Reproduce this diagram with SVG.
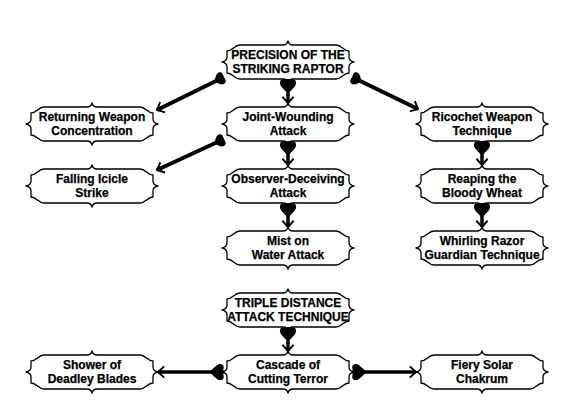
<svg xmlns="http://www.w3.org/2000/svg" xmlns:xlink="http://www.w3.org/1999/xlink" width="576" height="412" viewBox="0 0 576 412">
<style>
.box{fill:#fff;stroke:#000;stroke-width:1.3;stroke-linejoin:round}
.lbl{font-family:"Liberation Sans",Arial,sans-serif;font-weight:bold;font-size:12px;fill:#000;stroke:#000;stroke-width:0.25;text-anchor:middle}
.conn{fill:none;stroke:#000;stroke-width:3.5;marker-start:url(#heart);marker-end:url(#arrow)}
.diag{fill:none;stroke:#000;stroke-width:4;marker-start:url(#blob);marker-end:url(#arrow)}
</style>
<defs>
<path id="scroll" d="M -48 -17 L -5 -17 Q -1 -17 0 -21 Q 1 -17 5 -17 L 48 -17 C 54 -17 55 -11 61 -11 L 61 -5 Q 61 -1 66 0 Q 61 1 61 5 L 61 11 C 55 11 54 17 48 17 L 5 17 Q 1 17 0 21 Q -1 17 -5 17 L -48 17 C -54 17 -55 11 -61 11 L -61 5 Q -61 1 -66 0 Q -61 -1 -61 -5 L -61 -11 C -55 -11 -54 -17 -48 -17 Z"/>
<marker id="heart" markerUnits="userSpaceOnUse" markerWidth="20" markerHeight="20" refX="0" refY="0" viewBox="-2 -8 16 16" orient="auto" overflow="visible">
<path d="M 12 0 C 8 -3 6 -6.5 3 -6.5 C 0 -6.5 -1 -3 2 0 C -1 3 0 6.5 3 6.5 C 6 6.5 8 3 12 0 Z" fill="#000"/>
</marker>
<marker id="blob" markerUnits="userSpaceOnUse" markerWidth="20" markerHeight="20" refX="0" refY="0" viewBox="-2 -8 16 16" orient="auto" overflow="visible">
<path d="M 9 0 C 6 -2.5 5 -5 2.5 -5 C 0 -5 -1 -2.5 1 0 C -1 2.5 0 5 2.5 5 C 5 5 6 2.5 9 0 Z" fill="#000"/>
</marker>
<marker id="arrow" markerUnits="userSpaceOnUse" markerWidth="20" markerHeight="20" refX="0" refY="0" viewBox="-10 -8 12 16" orient="auto" overflow="visible">
<path d="M -5 -4.5 L 0 0 L -5 4.5" fill="none" stroke="#000" stroke-width="1.5"/>
</marker>
</defs>
<rect width="576" height="412" fill="#fff"/>
<g id="nodes">
<g id="n-precision" transform="translate(288,62)"><use href="#scroll" class="box"/><text class="lbl" y="-3">PRECISION OF THE</text><text class="lbl" y="11">STRIKING RAPTOR</text></g>
<g id="n-returning" transform="translate(92,124)"><use href="#scroll" class="box"/><text class="lbl" y="-3">Returning Weapon</text><text class="lbl" y="11">Concentration</text></g>
<g id="n-joint" transform="translate(288,124)"><use href="#scroll" class="box"/><text class="lbl" y="-3">Joint-Wounding</text><text class="lbl" y="11">Attack</text></g>
<g id="n-ricochet" transform="translate(482,124)"><use href="#scroll" class="box"/><text class="lbl" y="-3">Ricochet Weapon</text><text class="lbl" y="11">Technique</text></g>
<g id="n-falling" transform="translate(92,186)"><use href="#scroll" class="box"/><text class="lbl" y="-3">Falling Icicle</text><text class="lbl" y="11">Strike</text></g>
<g id="n-observer" transform="translate(288,186)"><use href="#scroll" class="box"/><text class="lbl" y="-3">Observer-Deceiving</text><text class="lbl" y="11">Attack</text></g>
<g id="n-reaping" transform="translate(482,186)"><use href="#scroll" class="box"/><text class="lbl" y="-3">Reaping the</text><text class="lbl" y="11">Bloody Wheat</text></g>
<g id="n-mist" transform="translate(288,248)"><use href="#scroll" class="box"/><text class="lbl" y="-3">Mist on</text><text class="lbl" y="11">Water Attack</text></g>
<g id="n-whirling" transform="translate(482,248)"><use href="#scroll" class="box"/><text class="lbl" y="-3">Whirling Razor</text><text class="lbl" y="11">Guardian Technique</text></g>
<g id="n-triple" transform="translate(288,310)"><use href="#scroll" class="box"/><text class="lbl" y="-3">TRIPLE DISTANCE</text><text class="lbl" y="11">ATTACK TECHNIQUE</text></g>
<g id="n-shower" transform="translate(92,372)"><use href="#scroll" class="box"/><text class="lbl" y="-3">Shower of</text><text class="lbl" y="11">Deadley Blades</text></g>
<g id="n-cascade" transform="translate(288,372)"><use href="#scroll" class="box"/><text class="lbl" y="-3">Cascade of</text><text class="lbl" y="11">Cutting Terror</text></g>
<g id="n-fiery" transform="translate(482,372)"><use href="#scroll" class="box"/><text class="lbl" y="-3">Fiery Solar</text><text class="lbl" y="11">Chakrum</text></g>
</g>
<g id="connectors">
<path class="diag" d="M 224 77 L 157 110"/>
<path class="diag" d="M 352 77 L 418 109"/>
<path class="conn" d="M 288 79 L 288 103"/>
<path class="diag" d="M 224 139 L 157 170"/>
<path class="conn" d="M 288 141 L 288 165"/>
<path class="conn" d="M 288 203 L 288 227"/>
<path class="conn" d="M 482 141 L 482 165"/>
<path class="conn" d="M 482 203 L 482 227"/>
<path class="conn" d="M 288 327 L 288 351"/>
<path class="conn" d="M 224 372 L 158 372"/>
<path class="conn" d="M 352 372 L 416 372"/>
</g>
</svg>
